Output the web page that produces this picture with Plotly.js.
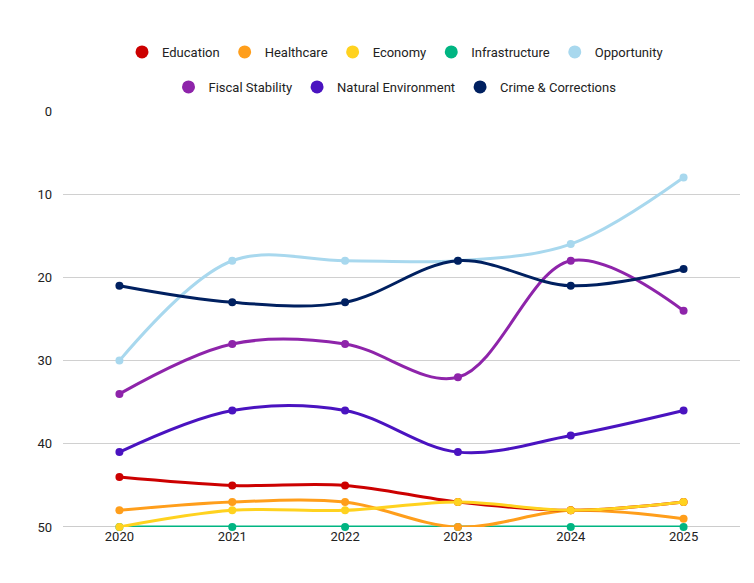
<!DOCTYPE html>
<html><head><meta charset="utf-8">
<script src="https://cdn.plot.ly/plotly-3.0.1.min.js"></script>
<style>body{margin:0;background:#fff}#chart{width:754px;height:583px}</style>
</head><body><div id="chart"></div>
<script>
const years = ['2020','2021','2022','2023','2024','2025'];
const education = [44, 45, 45, 47, 48, 47];
const healthcare = [48, 47, 47, 50, 48, 49];
const economy = [50, 48, 48, 47, 48, 47];
const infrastructure = [50, 50, 50, 50, 50, 50];
const opportunity = [30, 18, 18, 18, 16, 8];
const fiscalStability = [34, 28, 28, 32, 18, 24];
const naturalEnvironment = [41, 36, 36, 41, 39, 36];
const crimeCorrections = [21, 23, 23, 18, 21, 19];
const yTicks = [0, 10, 20, 30, 40, 50];

const series = [
  ['Education', education, '#cc0000', 'legend'],
  ['Healthcare', healthcare, '#ff9e1b', 'legend'],
  ['Economy', economy, '#ffd21f', 'legend'],
  ['Infrastructure', infrastructure, '#00b582', 'legend'],
  ['Opportunity', opportunity, '#a8d8ee', 'legend'],
  ['Fiscal Stability', fiscalStability, '#8e24aa', 'legend2'],
  ['Natural Environment', naturalEnvironment, '#4a13c0', 'legend2'],
  ['Crime & Corrections', crimeCorrections, '#002060', 'legend2']
];
const drawOrder = [3,1,0,2,4,6,5,7];
const traces = drawOrder.map(i => {
  const s = series[i];
  return {x: years, y: s[1], name: s[0], type: 'scatter', mode: 'lines+markers',
    line: {color: s[2], width: 3, shape: 'spline', smoothing: 1},
    marker: {color: s[2], size: 8}, showlegend: false, cliponaxis: false};
});
series.forEach((s, i) => {
  traces.push({x: [null], y: [null], name: s[0], type: 'scatter', mode: 'markers',
    marker: {color: s[2], size: 13}, legend: s[3], legendrank: i, hoverinfo: 'skip'});
});
const legFont = {family: 'Roboto, sans-serif', size: 13, color: '#222'};
const layout = {
  width: 754, height: 583,
  margin: {l: 63, r: 14, t: 111, b: 56},
  paper_bgcolor: '#fff', plot_bgcolor: '#fff',
  font: {family: 'Roboto, sans-serif', size: 13, color: '#222'},
  xaxis: {type: 'category', range: [-0.5, 5.5], showgrid: false, zeroline: false,
    showline: false, ticks: '', tickfont: {size: 13, color: '#222'}},
  yaxis: {range: [50, 0], tickvals: yTicks, showgrid: true, gridcolor: '#d0d0d0', gridwidth: 1,
    zeroline: false, showline: false, ticks: '', ticklabelstandoff: 10, tickfont: {size: 13, color: '#222'}},
  shapes: [{type: 'line', xref: 'paper', yref: 'y', x0: 0, x1: 1, y0: 50, y1: 50,
    line: {color: '#999', width: 1}, layer: 'below'}],
  legend: {orientation: 'h', x: 395/754, xref: 'container', xanchor: 'center', y: 1 - 52/583, yref: 'container', yanchor: 'middle',
    font: legFont, traceorder: 'normal', itemwidth: 30},
  legend2: {orientation: 'h', x: 395/754, xref: 'container', xanchor: 'center', y: 1 - 87/583, yref: 'container', yanchor: 'middle',
    font: legFont, traceorder: 'normal', itemwidth: 30},
  showlegend: true
};
Plotly.newPlot('chart', traces, layout, {displayModeBar: false, staticPlot: true});
</script></body></html>
